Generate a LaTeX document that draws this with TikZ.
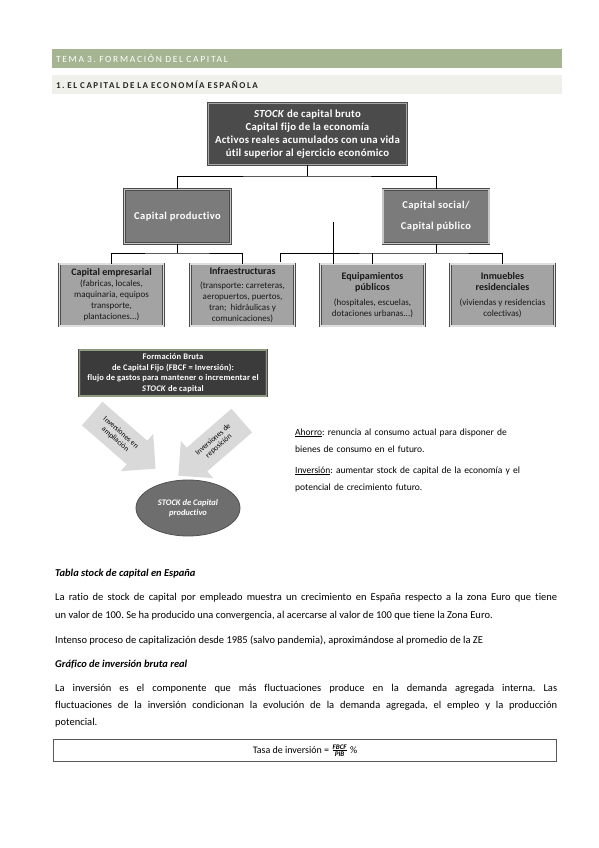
\documentclass[tikz,border=0pt]{standalone}
\usepackage{fontspec}
\setmainfont{Carlito}[Ligatures=NoCommon]
\usepackage{amsmath}
\usetikzlibrary{positioning, shapes.geometric, shapes.arrows}

\definecolor{bandgreen}{HTML}{A5B592}
\definecolor{bandgrey}{HTML}{EEF0E9}
\definecolor{topfill}{HTML}{4B4B4B}
\definecolor{midfill}{HTML}{7B7B7B}
\definecolor{lowfill}{HTML}{A3A3A3}
\definecolor{flowfill}{HTML}{3B3B3B}
\definecolor{flowedge}{HTML}{8C9A7E}
\definecolor{arrowfill}{HTML}{D9D9D9}
\definecolor{stockfill}{HTML}{6E6E6E}

\newcommand{\boxtitle}[1]{{\fontsize{10}{11.5}\selectfont\bfseries #1}}

\begin{document}
\frenchspacing
\begin{tikzpicture}[x=1pt, y=-1pt,
    bevel/.style={draw=black!70, double=#1, double distance=1.6pt, line width=0.4pt},
    band/.style={minimum height=19pt, text width=502pt, align=left, inner xsep=4pt, inner ysep=0pt},
    topbox/.style={bevel=gray!70, fill=topfill, text=white, align=center,
        font=\fontsize{10.8}{12.8}\selectfont\bfseries\addfontfeature{LetterSpace=2}, minimum width=198pt, minimum height=61pt, inner sep=1pt},
    midbox/.style={bevel=gray!45, fill=midfill, text=white, align=center,
        font=\fontsize{10.5}{21}\selectfont\bfseries\addfontfeature{LetterSpace=4}, minimum width=106pt, minimum height=54pt, inner sep=1pt},
    lowbox/.style={bevel=gray!25, fill=lowfill, text=black!90, align=center,
        font=\fontsize{9}{11}\selectfont, minimum width=104pt, minimum height=62pt, inner sep=1pt},
    link/.style={draw=black, line width=0.6pt},
    bigarrow/.style={single arrow, fill=arrowfill, single arrow head extend=9pt, single arrow tip angle=90,
        minimum height=84pt, inner ysep=8pt, align=center, font=\fontsize{7.5}{8.5}\selectfont},
    note/.style={text width=230pt, align=left, inner sep=0pt, font=\fontsize{9.5}{17}\selectfont},
    para/.style={text width=502pt, align=justify, inner sep=0pt, font=\fontsize{10.5}{18}\selectfont}
  ]
  \fill[white] (0,0) rectangle (599,848);
  \useasboundingbox (0,0) rectangle (599,848);

  % headings
  \node[band, fill=bandgreen, text=white, font=\fontsize{9.5}{10}\selectfont\addfontfeature{LetterSpace=18}] (tema) at (307,58.5)
    {TEMA 3. FORMACIÓN DEL CAPITAL};
  \node[band, fill=bandgrey, text=black!85, font=\fontsize{9}{9}\selectfont\bfseries\addfontfeature{LetterSpace=17}] (seccion) at (307,84.5)
    {1. EL CAPITAL DE LA ECONOMÍA ESPAÑOLA};

  % stock tree
  \node[topbox] (stock) at (307.5,134) {\textit{STOCK} de capital bruto\\Capital fijo de la economía\\Activos reales acumulados con una vida\\útil superior al ejercicio económico};
  \node[midbox] (prod) at (177.5,216.5) {Capital productivo};
  \node[midbox] (social) at (436,216.5) {Capital social/\\Capital público};

  \node[lowbox] (empresa) at (111.5,295) {\boxtitle{Capital empresarial}\\(fabricas, locales,\\maquinaria, equipos\\transporte,\\plantaciones...)};
  \node[lowbox] (infra) at (242.5,295) {\boxtitle{Infraestructuras}\\[3pt](transporte: carreteras,\\aeropuertos, puertos,\\tran;\ \ hidráulicas y\\comunicaciones)};
  \node[lowbox] (equip) at (372.5,295) {\boxtitle{Equipamientos}\\\boxtitle{públicos}\\[4pt](hospitales, escuelas,\\dotaciones urbanas...)};
  \node[lowbox] (inmueble) at (502.5,295) {\boxtitle{Inmuebles}\\\boxtitle{residenciales}\\[4pt](viviendas y residencias\\colectivas)};

  \coordinate (forktop) at (307.5,176);
  \coordinate (forkleft) at (177.5,253);
  \coordinate (forkright) at (436,253);
  \coordinate (infraside) at (280,262);
  \coordinate (stub) at (333,222);

  \draw[link] (stock.south) -- (forktop);
  \draw[link] (prod.north) |- (forktop) -| (social.north);
  \draw[link] (prod.south) -- (forkleft);
  \draw[link] (empresa.north) |- (forkleft) -| (infra.north);
  \draw[link] (social.south) -- (forkright);
  \draw[link] (infraside) |- (forkright) -| (inmueble.north);
  \draw[link] (equip.north) -- (equip.north |- forkright);
  \draw[link] (stub) -- (stub |- equip.north);

  % flujo de inversion
  \node[bevel=flowedge, fill=flowfill, text=white, align=center,
        font=\fontsize{8.5}{10.5}\selectfont\bfseries\addfontfeature{LetterSpace=2},
        minimum width=187pt, minimum height=46pt, inner sep=1pt] (fbcf) at (173,373)
    {Formación Bruta\\de Capital Fijo (FBCF = Inversión):\\flujo de gastos para mantener o incrementar el\\\textit{STOCK} de capital};
  \node[bigarrow, rotate=-41] (ampliacion) at (118,436) {Inversiones en\\ampliación};
  \node[bigarrow, rotate=41, shape border rotate=180] (reposicion) at (216,443) {Inversiones de\\reposición};
  \node[ellipse, fill=stockfill, draw=stockfill!75!black, line width=0.8pt, minimum width=104pt, minimum height=56pt,
        text=white, align=center, font=\fontsize{8.5}{10.5}\selectfont\bfseries\itshape] (stockprod) at (188,508)
    {STOCK de Capital\\productivo};

  \node[note, anchor=base west] (ahorro) at (295,435)
    {\underline{Ahorro}: renuncia al consumo actual para disponer de\\bienes de consumo en el futuro.};
  \node[note, anchor=base west] (inversion) at (295,473)
    {\underline{Inversión}: aumentar stock de capital de la economía y el\\potencial de crecimiento futuro.};

  % texto inferior
  \node[para, anchor=base west] (tabla) at (55,576) {\textbf{\textit{Tabla stock de capital en España}}};
  \node[para, anchor=base west] (ratio) at (55,600)
    {La ratio de stock de capital por empleado muestra un crecimiento en España respecto a la zona Euro que tiene\linebreak
     un valor de 100. Se ha producido una convergencia, al acercarse al valor de 100 que tiene la Zona Euro.};
  \node[para, anchor=base west] (intenso) at (55,643)
    {Intenso proceso de capitalización desde 1985 (salvo pandemia), aproximándose al promedio de la ZE};
  \node[para, anchor=base west] (grafico) at (55,667) {\textbf{\textit{Gráfico de inversión bruta real}}};
  \node[para, anchor=base west, font=\fontsize{10.5}{17}\selectfont] (fluct) at (55,691)
    {La inversión es el componente que más fluctuaciones produce en la demanda agregada interna. Las\linebreak
     fluctuaciones de la inversión condicionan la evolución de la demanda agregada, el empleo y la producción\linebreak
     potencial.};
  \node[draw=black!65, line width=0.8pt, minimum width=503pt, minimum height=22pt, inner sep=0pt,
        font=\fontsize{10}{12}\selectfont] (tasa) at (305,750.5)
    {Tasa de inversión = \(\frac{\text{\bfseries\itshape FBCF}}{\text{\bfseries\itshape PIB}}\) \%};
\end{tikzpicture}
\end{document}
